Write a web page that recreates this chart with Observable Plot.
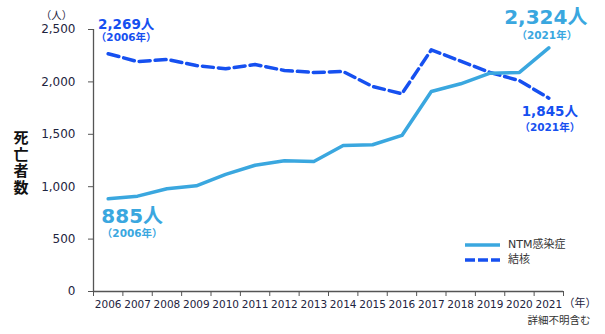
<!DOCTYPE html>
<html>
<head>
<meta charset="utf-8">
<script src="https://cdn.jsdelivr.net/npm/d3@7"></script>
<script src="https://cdn.jsdelivr.net/npm/@observablehq/plot@0.6"></script>
<style>
  html, body { margin: 0; padding: 0; background: #fff; }
  #wrap { position: relative; width: 605px; height: 334px; font-family: "DejaVu Sans", "Noto Sans CJK JP", sans-serif; }
  #legend { position: absolute; left: 465px; top: 238px; font-size: 11px; color: #333; line-height: 14px; }
  #legend div { display: flex; align-items: center; height: 14.5px; }
  #legend svg { margin-right: 8px; }
</style>
</head>
<body>
<div id="wrap"><div id="chart"></div>
  <div id="legend">
    <div><svg width="35" height="6"><line x1="0" x2="35" y1="3" y2="3" stroke="#3aa7df" stroke-width="3.5"/></svg>NTM感染症</div>
    <div><svg width="35" height="6"><line x1="0" x2="35" y1="3" y2="3" stroke="#1650f0" stroke-width="3.5" stroke-dasharray="10,3"/></svg>結核</div>
  </div>
</div>
<script>
const years = [2006,2007,2008,2009,2010,2011,2012,2013,2014,2015,2016,2017,2018,2019,2020,2021];
const ntm = [885,910,980,1008,1118,1205,1248,1240,1393,1400,1489,1908,1982,2083,2090,2324];
const tb  = [2269,2194,2214,2156,2126,2166,2109,2090,2099,1956,1887,2306,2198,2090,2012,1845];
const yTicks = [0,500,1000,1500,2000,2500];

const NTM_C = "#3aa7df", TB_C = "#1650f0", TICK_C = "#1e2440";
const ntmData = years.map((y,i)=>({year:y, v:ntm[i]}));
const tbData = years.map((y,i)=>({year:y, v:tb[i]}));
const bounds = years.map(y=>y-0.5).concat([years[years.length-1]+0.5]);
const first = 0, last = years.length-1;

const chart = Plot.plot({
  width: 605, height: 334,
  marginLeft: 93, marginRight: 42, marginTop: 29, marginBottom: 43,
  style: {fontFamily: '"DejaVu Sans", "Noto Sans CJK JP", sans-serif', background: "#fff", overflow: "visible"},
  x: {type: "linear", domain: [bounds[0], bounds[bounds.length-1]]},
  y: {domain: [0, 2500]},
  marks: [
    Plot.axisY(yTicks, {tickSize: 5, tickPadding: 13, tickFormat: d3.format(","), fontSize: 12, color: TICK_C, stroke: "#555", label: null}),
    Plot.axisX(bounds, {tickSize: 5, tickFormat: () => "", stroke: "#555", label: null}),
    Plot.axisX(years, {tickSize: 0, tickPadding: 9, tickFormat: d => String(d), fontSize: 10.5, color: TICK_C, label: null}),
    Plot.ruleY([0], {stroke: "#555", strokeWidth: 1.3}),
    Plot.ruleX([bounds[0]], {stroke: "#555", strokeWidth: 1.3}),
    Plot.line(tbData, {x: "year", y: "v", stroke: TB_C, strokeWidth: 3.5, strokeDasharray: "11,5"}),
    Plot.line(ntmData, {x: "year", y: "v", stroke: NTM_C, strokeWidth: 3.5}),
    // annotations
    Plot.text([tbData[first]], {x: "year", y: "v", text: d => d3.format(",")(d.v) + "人", dx: 18, dy: -29, fill: TB_C, fontSize: 13.5, fontWeight: "bold"}),
    Plot.text([tbData[first]], {x: "year", y: "v", text: d => "（" + d.year + "年）", dx: 18, dy: -16, fill: TB_C, fontSize: 10.5, fontWeight: "bold"}),
    Plot.text([tbData[last]], {x: "year", y: "v", text: d => d3.format(",")(d.v) + "人", dx: 1, dy: 14, fill: TB_C, fontSize: 13.5, fontWeight: "bold"}),
    Plot.text([tbData[last]], {x: "year", y: "v", text: d => "（" + d.year + "年）", dx: 1, dy: 29, fill: TB_C, fontSize: 10.5, fontWeight: "bold"}),
    Plot.text([ntmData[last]], {x: "year", y: "v", text: d => d3.format(",")(d.v) + "人", dx: -3, dy: -30, fill: NTM_C, fontSize: 20, fontWeight: "bold"}),
    Plot.text([ntmData[last]], {x: "year", y: "v", text: d => "（" + d.year + "年）", dx: -2, dy: -12, fill: NTM_C, fontSize: 10.5, fontWeight: "bold"}),
    Plot.text([ntmData[first]], {x: "year", y: "v", text: d => d3.format(",")(d.v) + "人", dx: 24, dy: 18, fill: NTM_C, fontSize: 20, fontWeight: "bold"}),
    Plot.text([ntmData[first]], {x: "year", y: "v", text: d => "（" + d.year + "年）", dx: 24, dy: 35, fill: NTM_C, fontSize: 10.5, fontWeight: "bold"}),
    // axis titles / notes
    Plot.text(["死\n亡\n者\n数"], {frameAnchor: "left", dx: -80, dy: 2, fontSize: 15, fontWeight: "bold", fill: "#111", lineHeight: 1.1}),
    Plot.text(["（人）"], {frameAnchor: "top-left", textAnchor: "middle", dx: -37, dy: -18, fontSize: 10.5, fill: TICK_C}),
    Plot.text(["（年）"], {frameAnchor: "bottom-right", textAnchor: "start", dx: 0, dy: 15, fontSize: 11, fill: TICK_C}),
    Plot.text(["詳細不明含む"], {frameAnchor: "bottom-right", textAnchor: "end", dx: 27, dy: 32, fontSize: 10.5, fill: "#333"})
  ]
});
document.getElementById("chart").appendChild(chart);
</script>
</body>
</html>
